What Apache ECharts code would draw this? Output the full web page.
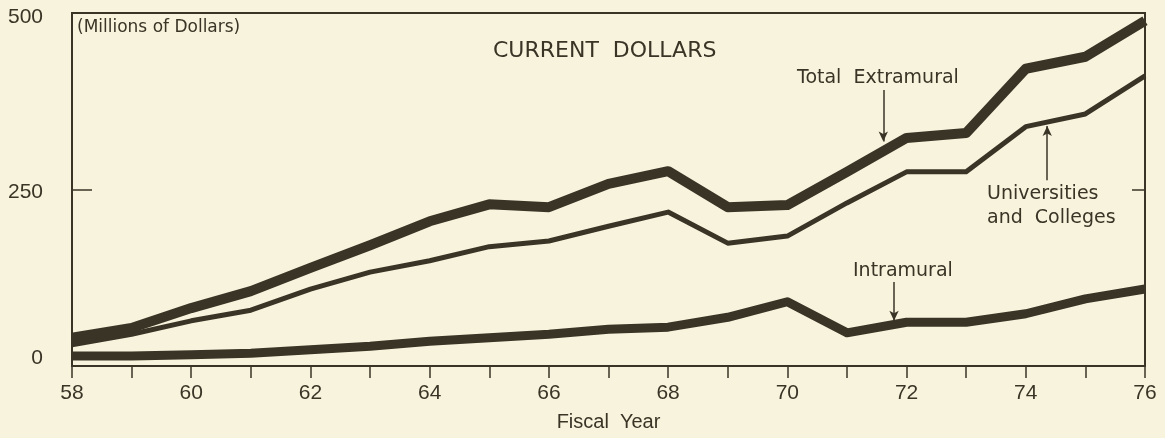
<!DOCTYPE html>
<html>
<head>
<meta charset="utf-8">
<script src="https://cdn.jsdelivr.net/npm/echarts@6/dist/echarts.min.js"></script>
<style>
  html, body { margin: 0; padding: 0; background: #f8f3dc; }
  #chart { width: 1165px; height: 438px; }
</style>
</head>
<body>
<div id="chart"></div>
<script>
// fiscal years 1958..1976
let years = [58, 59, 60, 61, 62, 63, 64, 65, 66, 67, 68, 69, 70, 71, 72, 73, 74, 75, 76];
// millions of dollars
let totalExtramural = [40, 54, 82, 106, 139, 171, 205, 229, 225, 258, 276, 225, 228, 275, 323, 330, 421, 438, 489];
let universities    = [30, 45, 64, 79, 109, 133, 149, 169, 177, 198, 218, 174, 184, 231, 275, 275, 339, 357, 411];
let intramural      = [14, 14, 16, 18, 23, 28, 35, 40, 45, 52, 55, 69, 91, 47, 62, 62, 74, 95, 109];
let yTicks = [0, 250, 500];

let ink = '#3a3427';
let font = '"Liberation Sans", Arial, sans-serif';
let noteFont = '"DejaVu Sans", sans-serif';

let pairs = arr => arr.map((v, i) => [years[i], v]);

// 箭头 (arrow) helper in data coords
let arrow = (x, y1, y2) => ({
    silent: true,
    symbol: ['none', 'arrow'],
    symbolSize: [7, 10],
    label: {show: false},
    lineStyle: {color: ink, width: 1.5, type: 'solid'},
    data: [[{coord: [x, y1]}, {coord: [x, y2]}]]
});

let lineSeries = (name, data, width, mark) => ({
    name: name,
    type: 'line',
    data: pairs(data),
    symbol: 'none',
    smooth: false,
    lineStyle: {color: ink, width: width, join: 'round', cap: 'butt'},
    z: 3,
    markLine: mark
});

let option = {
    backgroundColor: '#f8f3dc',
    animation: false,
    grid: {
        left: 72, right: 20, top: 13, bottom: 72,
        outerBoundsMode: 'none',
        containLabel: false,
        show: true, borderColor: ink, borderWidth: 2, backgroundColor: 'transparent'
    },
    xAxis: {
        type: 'value',
        min: 58, max: 76, interval: 1,
        name: 'Fiscal  Year',
        nameLocation: 'middle',
        nameGap: 46,
        nameTextStyle: {color: ink, fontSize: 20, fontFamily: font},
        axisLine: {show: true, lineStyle: {color: ink, width: 2}},
        axisTick: {show: true, length: 12, lineStyle: {color: ink, width: 1.5}},
        axisLabel: {
            color: ink, fontSize: 21, fontFamily: font, margin: 17,
            formatter: v => (v % 2 === 0 ? String(v) : '')
        },
        splitLine: {show: false}
    },
    yAxis: [{
        type: 'value',
        min: yTicks[0], max: yTicks[2], interval: yTicks[1] - yTicks[0],
        axisLine: {show: true, lineStyle: {color: ink, width: 2}},
        axisTick: {show: true, inside: true, length: 20, lineStyle: {color: ink, width: 1.5}},
        axisLabel: {
            color: ink, fontSize: 21, fontFamily: font, margin: 29,
            // nudge labels the way the printed figure sits them
            formatter: v => v === 0 ? '{lo|0}' : (v === 500 ? '{hi|500}' : '{mid|' + v + '}'),
            rich: {
                lo: {color: ink, fontSize: 21, fontFamily: font, padding: [0, 0, 16, 0]},
                mid: {color: ink, fontSize: 21, fontFamily: font, padding: [6, 0, 0, 0]},
                hi: {color: ink, fontSize: 21, fontFamily: font, padding: [8, 0, 0, 0]}
            }
        },
        splitLine: {show: false}
    }, {
        type: 'value',
        position: 'right',
        min: yTicks[0], max: yTicks[2], interval: yTicks[1] - yTicks[0],
        axisLine: {show: true, lineStyle: {color: ink, width: 2}},
        axisTick: {show: true, inside: true, length: 13, lineStyle: {color: ink, width: 1.5}},
        axisLabel: {show: false},
        splitLine: {show: false}
    }],
    series: [
        lineSeries('Total Extramural', totalExtramural, 10, arrow(71.61, 391, 318)),
        lineSeries('Universities and Colleges', universities, 5, arrow(74.36, 263, 340)),
        lineSeries('Intramural', intramural, 9, arrow(71.79, 119, 64))
    ],
    graphic: [
        {type: 'text', left: 77, top: 19, style: {text: '(Millions of Dollars)', fill: ink, font: '17px ' + noteFont}},
        {type: 'text', left: 493, top: 40, style: {text: 'CURRENT  DOLLARS', fill: ink, font: '22px ' + noteFont}},
        {type: 'text', left: 797, top: 69, style: {text: 'Total  Extramural', fill: ink, font: '19px ' + noteFont}},
        {type: 'text', left: 987, top: 182, style: {text: 'Universities\nand  Colleges', fill: ink, font: '19px ' + noteFont, lineHeight: 24}},
        {type: 'text', left: 853, top: 262, style: {text: 'Intramural', fill: ink, font: '19px ' + noteFont}}
    ]
};

let chart = echarts.init(document.getElementById('chart'));
chart.setOption(option, true);
</script>
</body>
</html>
